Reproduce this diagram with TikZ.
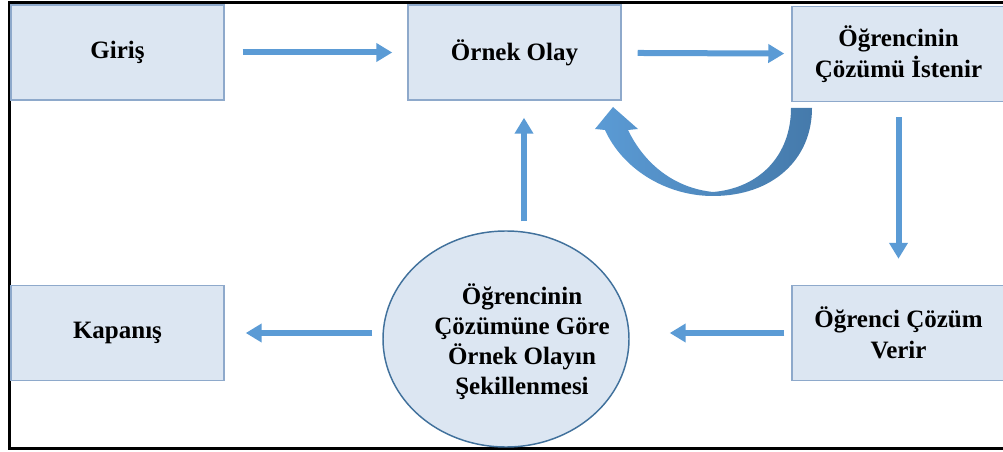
\documentclass[tikz,border=0pt]{standalone}
\usepackage{fontspec}
\setmainfont{Liberation Serif}
\usetikzlibrary{arrows.meta,shapes.geometric}
\definecolor{boxfill}{HTML}{DCE6F2}
\definecolor{boxline}{HTML}{8EA9CB}
\definecolor{arrowblue}{HTML}{5B9BD5}
\definecolor{darkarrow}{HTML}{457AAB}
\definecolor{ovalline}{HTML}{41719C}

\begin{document}
\begin{tikzpicture}[x=0.75pt, y=-0.75pt,
  every node/.style={font=\fontsize{18.75}{23.25}\selectfont\bfseries, align=center},
  box/.style={draw=boxline, line width=1.1pt, fill=boxfill, inner sep=0pt,
    minimum width=159.75pt, minimum height=71.25pt},
  arr/.style={arrowblue, line width=4.5pt, -{Triangle[length=12pt,width=13.5pt]}}]
  \clip (0,0) rectangle (1003,452);
  % outer frame
  \draw[line width=2.25pt] (1020,3) -- (9,3) -- (9,448) -- (1020,448);
  \node[box] (giris) at (117.5,52.5) {Giriş};
  \node[box] (ornek) at (514.5,52.5) {Örnek Olay};
  \node[box] (istenir) at (898.5,54) {Öğrencinin\\Çözümü İstenir};
  \node[box] (kapanis) at (117.5,333) {Kapanış};
  \node[box] (verir) at (898.5,333) {Öğrenci Çözüm\\Verir};
  \node[ellipse, draw=ovalline, line width=1.1pt, fill=boxfill,
    minimum width=184.5pt, minimum height=162pt] (sekil) at (506,339) {};
  \node[font=\fontsize{18.75}{22.5}\selectfont\bfseries] (sekilyazi) at (522,342)
    {Öğrencinin\\Çözümüne Göre\\Örnek Olayın\\Şekillenmesi};
  % straight arrows
  \draw[arr, shorten <=13.5pt, shorten >=11.25pt] (giris) -- (ornek);
  \draw[arr, shorten <=12pt, shorten >=5.25pt] (ornek) -- (istenir);
  \draw[arr, shorten <=11.25pt, shorten >=19.5pt] (istenir) -- (verir);
  \draw[arr, shorten <=5.25pt, shorten >=30pt] (verir.west) -- (verir.west -| sekil.east);
  \draw[arr, shorten <=7.5pt, shorten >=15.75pt] (kapanis.east -| sekil.west) -- (kapanis.east);
  \draw[arr, shorten <=6.75pt, shorten >=12.75pt]
    ([xshift=13.5pt]sekil.north) -- ([xshift=13.5pt]sekil.north |- ornek.south);
  % curved arrow back to the case
  \shade[left color=arrowblue, middle color=arrowblue, right color=darkarrow]
    (613,107) -- (638,129) -- (628,130)
    .. controls (645,165) and (675,188) .. (713,192)
    .. controls (760,188) and (791,155) .. (791,108) -- (812,108)
    .. controls (812,160) and (772,196) .. (713,196)
    .. controls (665,196) and (622,168) .. (605,130) -- (595,129) -- cycle;
\end{tikzpicture}
\end{document}
